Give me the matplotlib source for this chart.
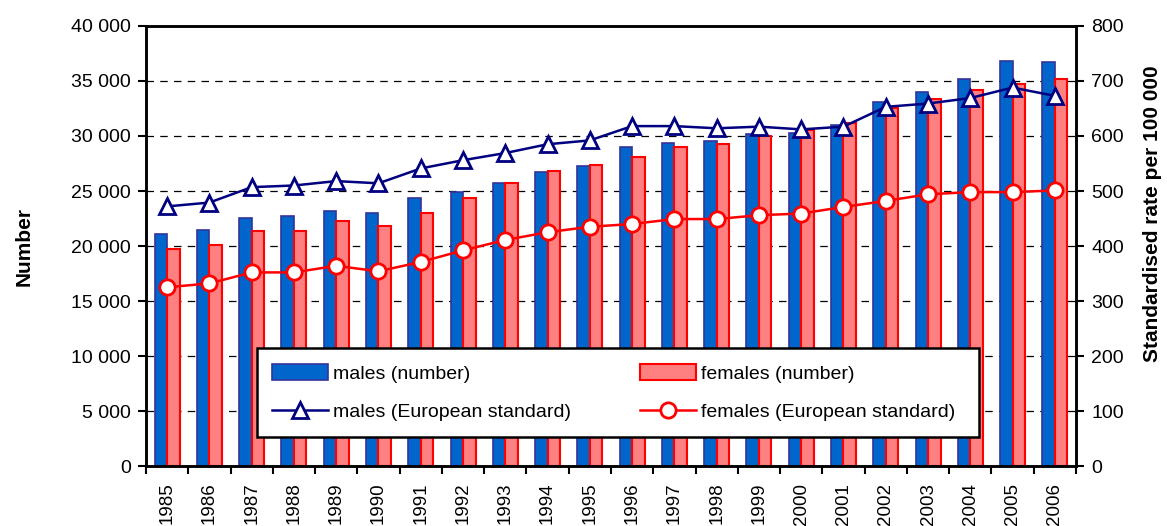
import matplotlib.pyplot as plt
import numpy as np
from matplotlib.patches import Rectangle
from matplotlib.ticker import FuncFormatter, MultipleLocator

plt.rcParams['font.family'] = ['Liberation Sans', 'DejaVu Sans']

years = [str(y) for y in range(1985, 2007)]

males_number = [21100, 21450, 22550, 22700, 23200, 23000, 24350, 24900, 25700, 26700, 27270,
                29000, 29400, 29500, 30200, 30300, 31000, 33100, 34000, 35200, 36850, 36700]
females_number = [19700, 20100, 21400, 21400, 22300, 21800, 23000, 24400, 25700, 26800, 27400,
                  28100, 29000, 29300, 30000, 30500, 31200, 32500, 33400, 34200, 34700, 35200]
males_rate = [472, 479, 507, 510, 518, 514, 541, 556, 569, 585, 592,
              618, 618, 614, 617, 612, 617, 653, 659, 669, 688, 673]
females_rate = [325, 332, 352, 352, 364, 354, 371, 392, 411, 425, 435,
                440, 449, 449, 456, 459, 471, 482, 494, 498, 498, 501]

x = np.arange(len(years))
w = 0.296

fig = plt.figure(figsize=(11.67, 5.26), dpi=100)
ax = fig.add_axes([0.1251, 0.114, 0.7969, 0.8366])
ax2 = ax.twinx()

b1 = ax.bar(x - w / 2, males_number, w, color='#0066CC', edgecolor='#333399', linewidth=1.2,
            zorder=2)
b2 = ax.bar(x + w / 2, females_number, w, color='#FF8080', edgecolor='#FF0000', linewidth=1.5,
            zorder=2)

l1, = ax2.plot(x, males_rate, color='#000080', lw=1.8, marker='^', ms=12, mfc='white',
               mec='#000080', mew=2, zorder=2)
l2, = ax2.plot(x, females_rate, color='#FF0000', lw=1.8, marker='o', ms=11, mfc='white',
               mec='#FF0000', mew=2, zorder=2)

ax.set_xlim(-0.5, len(years) - 0.5)
ax.set_ylim(0, 40000)
ax2.set_ylim(0, 800)
ax.yaxis.set_major_locator(MultipleLocator(5000))
ax2.yaxis.set_major_locator(MultipleLocator(100))
ax.yaxis.set_major_formatter(FuncFormatter(lambda v, p: f'{int(v):,}'.replace(',', ' ')))

# ticks sit between the years, labels in the middle
ax.set_xticks(np.arange(len(years) + 1) - 0.5)
ax.set_xticklabels([])
ax.set_xticks(x, minor=True)
ax.set_xticklabels(years, minor=True, rotation=90, fontsize=13.5)
ax.tick_params(axis='x', which='minor', length=0, pad=12)
ax.tick_params(axis='x', which='major', length=6, width=1.5, direction='out')
ax.tick_params(axis='y', length=6, width=1.5, labelsize=14, pad=5)
ax2.tick_params(axis='y', length=6, width=1.5, labelsize=14, pad=5)

ax.yaxis.grid(True, linestyle=(0, (6, 5)), color='black', lw=0.9)
ax.set_axisbelow(True)

for a in (ax, ax2):
    for s in a.spines.values():
        s.set_linewidth(1.8)

ax.set_ylabel('Number', fontsize=15, fontweight='bold')
ax.yaxis.set_label_coords(-0.1204, 0.5)
ax2.set_ylabel('Standardised rate per 100 000', fontsize=15, fontweight='bold')
ax2.yaxis.set_label_coords(1.072, 0.573)

frame = Rectangle((0.119, 0.066), 0.777, 0.202, transform=ax2.transAxes,
                  facecolor='white', edgecolor='black', lw=1.8, zorder=4.5)
ax2.add_patch(frame)

leg = ax2.legend([b1, l1, b2, l2],
                 ['males (number)', 'males (European standard)',
                  'females (number)', 'females (European standard)'],
                 ncol=2, loc='center', bbox_to_anchor=(0.1355, 0.066, 0.735, 0.202),
                 mode='expand', fontsize=14, handlelength=2.9, handleheight=0.9,
                 frameon=False, borderpad=0, borderaxespad=0, labelspacing=1.0,
                 handletextpad=0.25)

fig.savefig('out.png', dpi=100)
